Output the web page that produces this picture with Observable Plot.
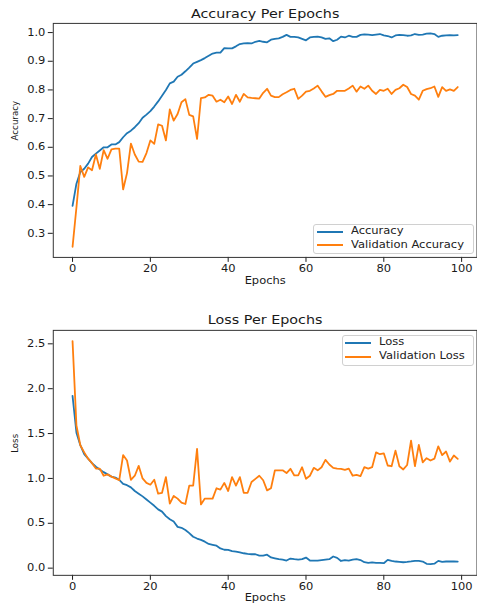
<!DOCTYPE html>
<html><head><meta charset="utf-8">
<script src="https://cdn.jsdelivr.net/npm/d3@7"></script>
<script src="https://cdn.jsdelivr.net/npm/@observablehq/plot@0.6"></script>
<style>
html,body{margin:0;padding:0;background:#fff;overflow:hidden;width:477px;height:605px}
#root{position:relative;width:477px;height:605px;overflow:hidden;font-family:"DejaVu Sans",sans-serif;color:#222}
#root svg{display:block}
.leg{position:absolute;border:1px solid #d0d0d0;border-radius:3px;background:rgba(255,255,255,0.85);box-sizing:border-box}
.legline{position:absolute;height:0;border-top:2px solid}
.legtext{position:absolute;font-size:10px;line-height:10px;white-space:nowrap;transform:scaleX(1.15);transform-origin:left center;color:#222}
</style></head><body><div id="root"></div>
<script>
// ---- data ----
const epochs = d3.range(100);
const xTicks = [0, 20, 40, 60, 80, 100];
const accTicks = [0.3, 0.4, 0.5, 0.6, 0.7, 0.8, 0.9, 1.0];
const lossTicks = [0.0, 0.5, 1.0, 1.5, 2.0, 2.5];

const accuracy = [
0.396,0.473,0.514,0.525,0.543,0.566,0.578,0.589,0.600,0.600,
0.610,0.610,0.618,0.635,0.649,0.658,0.670,0.684,0.703,0.714,
0.726,0.742,0.760,0.780,0.800,0.823,0.829,0.846,0.853,0.865,
0.878,0.892,0.898,0.904,0.911,0.919,0.927,0.930,0.930,0.946,
0.945,0.945,0.952,0.960,0.962,0.963,0.962,0.968,0.971,0.968,
0.966,0.975,0.978,0.980,0.985,0.992,0.985,0.985,0.983,0.978,
0.973,0.983,0.985,0.986,0.983,0.978,0.980,0.970,0.975,0.986,
0.983,0.989,0.985,0.985,0.992,0.994,0.993,0.991,0.993,0.995,
0.990,0.988,0.983,0.990,0.992,0.991,0.989,0.990,0.995,0.992,
0.993,0.996,0.997,0.995,0.985,0.989,0.990,0.991,0.990,0.991];

const valAccuracy = [
0.253,0.390,0.535,0.497,0.530,0.520,0.575,0.525,0.590,0.560,
0.593,0.595,0.595,0.453,0.510,0.613,0.575,0.550,0.549,0.580,
0.624,0.612,0.680,0.675,0.624,0.732,0.693,0.716,0.757,0.768,
0.713,0.708,0.629,0.771,0.774,0.783,0.780,0.759,0.766,0.757,
0.777,0.751,0.783,0.759,0.786,0.774,0.772,0.771,0.770,0.790,
0.804,0.780,0.775,0.775,0.785,0.792,0.800,0.804,0.769,0.780,
0.794,0.797,0.805,0.815,0.795,0.776,0.782,0.786,0.797,0.797,
0.797,0.805,0.815,0.794,0.812,0.804,0.815,0.797,0.786,0.800,
0.797,0.804,0.786,0.800,0.806,0.818,0.810,0.786,0.780,0.766,
0.797,0.803,0.806,0.812,0.776,0.810,0.797,0.802,0.797,0.810];

const loss = [
1.92,1.51,1.37,1.27,1.22,1.17,1.13,1.10,1.07,1.045,
1.02,1.01,0.985,0.94,0.925,0.90,0.86,0.83,0.80,0.765,
0.73,0.695,0.655,0.63,0.58,0.545,0.52,0.46,0.45,0.425,
0.39,0.35,0.33,0.315,0.295,0.27,0.26,0.25,0.22,0.205,
0.203,0.19,0.185,0.175,0.166,0.16,0.155,0.155,0.14,0.14,
0.15,0.12,0.11,0.10,0.095,0.085,0.107,0.10,0.095,0.10,
0.118,0.085,0.085,0.085,0.09,0.095,0.10,0.13,0.115,0.08,
0.09,0.085,0.095,0.10,0.09,0.066,0.06,0.065,0.06,0.06,
0.055,0.092,0.08,0.074,0.07,0.066,0.07,0.075,0.081,0.08,
0.074,0.048,0.045,0.05,0.081,0.07,0.074,0.074,0.076,0.072];

const valLoss = [
2.53,1.59,1.37,1.29,1.22,1.17,1.11,1.11,1.03,1.045,
1.02,1.0,0.98,1.26,1.20,0.985,1.03,1.14,1.0,0.95,
0.93,0.985,0.83,0.84,1.015,0.72,0.805,0.775,0.73,0.715,
0.92,0.92,1.33,0.71,0.775,0.775,0.775,0.89,0.875,0.95,
0.86,1.015,0.92,1.015,0.84,0.84,0.96,0.995,1.03,0.98,
0.867,0.89,1.089,1.09,1.09,1.06,1.107,1.033,1.035,1.125,
0.996,1.03,1.118,1.09,1.125,1.207,1.155,1.118,1.11,1.107,
1.096,1.11,1.03,1.04,1.026,1.125,1.11,1.125,1.29,1.27,
1.28,1.144,1.136,1.31,1.136,1.10,1.15,1.42,1.136,1.373,
1.18,1.225,1.20,1.22,1.358,1.26,1.30,1.188,1.255,1.218];

const titles = ["Accuracy Per Epochs", "Loss Per Epochs"];
const xLabel = "Epochs";
const yLabels = ["Accuracy", "Loss"];
const legendLabels = [["Accuracy", "Validation Accuracy"], ["Loss", "Validation Loss"]];
const colors = ["#1f77b4", "#ff7f0e"];

// ---- helpers ----
const S = 1.15;
function stretch(svg) {
  svg.querySelectorAll("text").forEach(t => {
    const tr = t.getAttribute("transform") || "";
    if (tr.includes("rotate")) return;
    const x = +(t.getAttribute("x") || 0);
    t.setAttribute("transform", `${tr} translate(${x},0) scale(${S},1) translate(${-x},0)`.trim());
  });
}

function chart({series, yDomain, yTicks, height, marginTop, marginBottom, title, ylabel, titleDy, xlabDy}) {
  const svg = Plot.plot({
    width: 479, height,
    marginLeft: 53, marginRight: 0.5, marginTop, marginBottom,
    style: {fontFamily: "DejaVu Sans", fontSize: "10px", color: "#1a1a1a", background: "transparent", overflow: "visible"},
    x: {domain: [-4.95, 103.95]},
    y: {domain: yDomain},
    marks: [
      Plot.axisX(xTicks, {tickSize: 5, tickPadding: 3, label: null, tickFormat: d3.format("d"), strokeWidth: 1, fontSize: 10}),
      Plot.axisY(yTicks, {tickSize: 5, tickPadding: 3, label: null, tickFormat: d3.format(".1f"), strokeWidth: 1, fontSize: 10}),
      Plot.lineY(series[0], {x: epochs, stroke: colors[0], strokeWidth: 1.8}),
      Plot.lineY(series[1], {x: epochs, stroke: colors[1], strokeWidth: 1.8}),
      Plot.frame({stroke: "#333", strokeWidth: 1}),
      Plot.text([title], {frameAnchor: "top", lineAnchor: "middle", dy: titleDy, fontSize: 12.5, fill: "#1a1a1a"}),
      Plot.text([xLabel], {frameAnchor: "bottom", lineAnchor: "middle", dy: xlabDy, fontSize: 10, fill: "#1a1a1a"}),
      Plot.text([ylabel], {frameAnchor: "left", lineAnchor: "middle", rotate: -90, dx: -38, fontSize: 8.7, fill: "#1a1a1a"})
    ]
  });
  stretch(svg);
  return svg;
}

const root = document.getElementById("root");
const top1 = chart({series: [accuracy, valAccuracy], yDomain: [0.216, 1.032], yTicks: accTicks,
  height: 300, marginTop: 23, marginBottom: 42, title: titles[0], ylabel: yLabels[0], titleDy: -9.7, xlabDy: 23});
const bot1 = chart({series: [loss, valLoss], yDomain: [-0.08, 2.65], yTicks: lossTicks,
  height: 305, marginTop: 31, marginBottom: 28, title: titles[1], ylabel: yLabels[1], titleDy: -10.5, xlabDy: 23});
root.appendChild(top1);
root.appendChild(bot1);

function legend(box, items, labels) {
  const d = document.createElement("div");
  d.className = "leg";
  Object.assign(d.style, {left: box[0] + "px", top: box[1] + "px", width: box[2] + "px", height: box[3] + "px"});
  root.appendChild(d);
  items.forEach((it, i) => {
    const l = document.createElement("div");
    l.className = "legline";
    Object.assign(l.style, {left: it.lx + "px", top: (it.y - 1) + "px", width: it.lw + "px", borderTopColor: colors[i]});
    root.appendChild(l);
    const t = document.createElement("div");
    t.className = "legtext";
    t.textContent = labels[i];
    Object.assign(t.style, {left: it.tx + "px", top: (it.y - 5.5) + "px"});
    root.appendChild(t);
  });
}
legend([313, 224, 161, 30], [{lx: 317, lw: 26, tx: 350.5, y: 231.7}, {lx: 317, lw: 26, tx: 350.5, y: 245}], legendLabels[0]);
legend([342, 335, 132, 31], [{lx: 345, lw: 26, tx: 379.3, y: 342.7}, {lx: 345, lw: 26, tx: 379.3, y: 356.7}], legendLabels[1]);
</script></body></html>
